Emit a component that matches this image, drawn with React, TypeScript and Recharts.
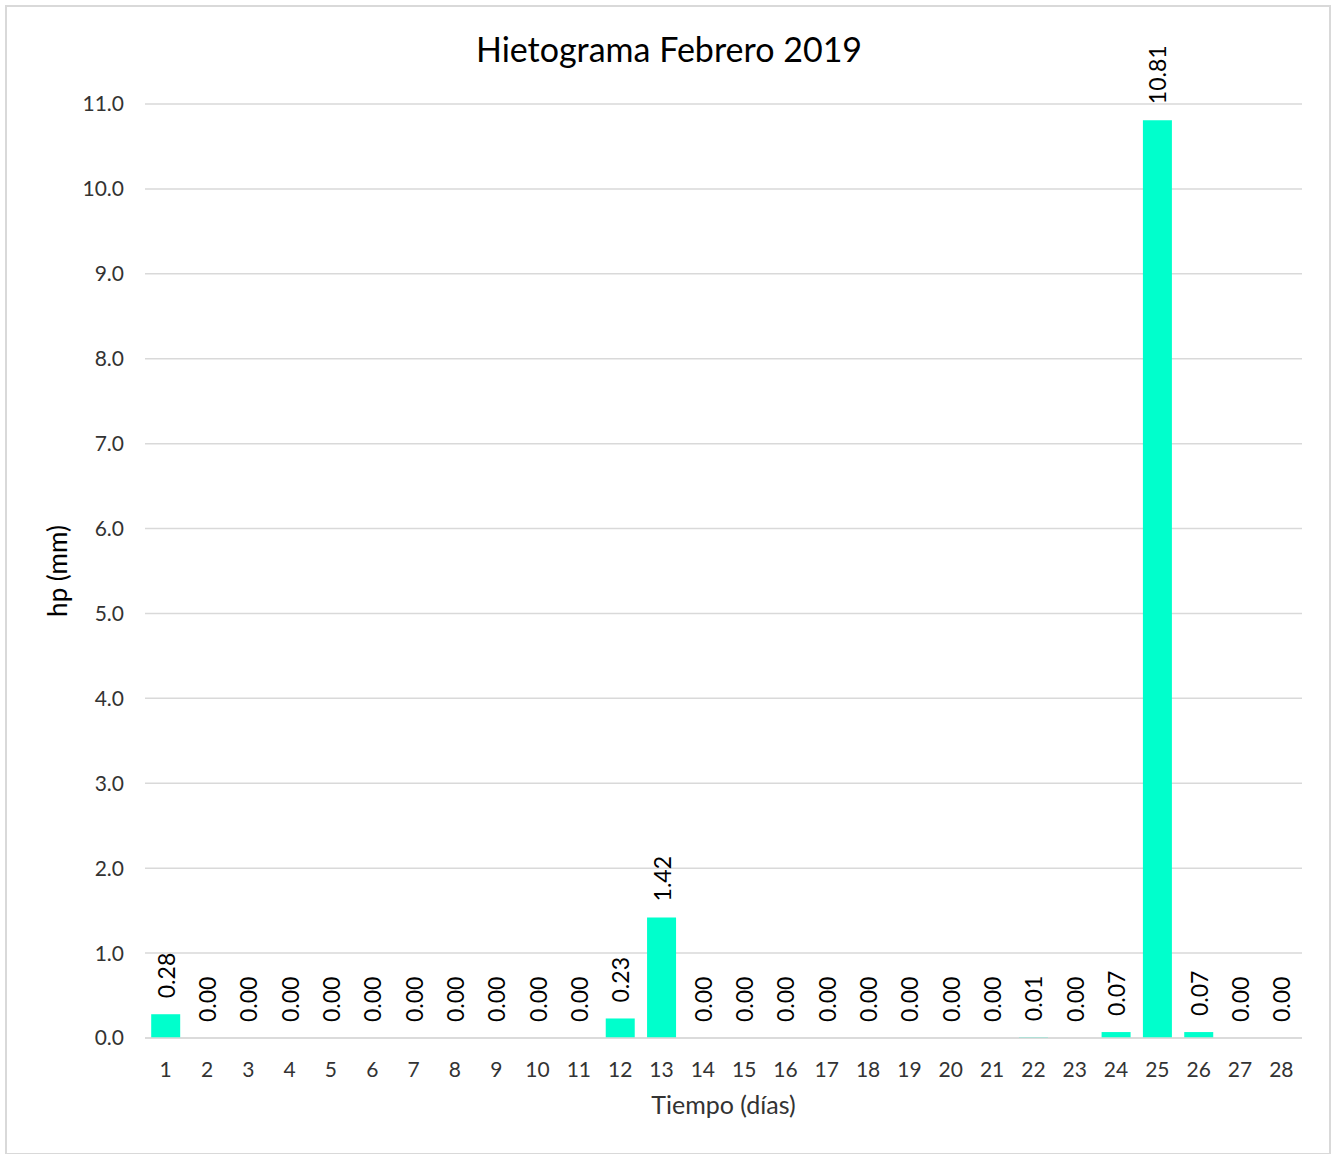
import { ComposedChart, Bar, Line, XAxis, YAxis, CartesianGrid, LabelList, Label } from "recharts";

const days = [
  1, 2, 3, 4, 5, 6, 7, 8, 9, 10, 11, 12, 13, 14, 15, 16, 17, 18, 19, 20, 21, 22, 23, 24, 25, 26, 27, 28,
];
const hp = [
  0.28, 0, 0, 0, 0, 0, 0, 0, 0, 0, 0, 0.23, 1.42, 0, 0, 0, 0, 0, 0, 0, 0, 0.01, 0, 0.07, 10.81, 0.07, 0, 0,
];
const yTicks = [0, 1, 2, 3, 4, 5, 6, 7, 8, 9, 10, 11];

const data = days.map((d, i) => ({ day: String(d), hp: hp[i] }));

const font = "Lato, 'Open Sans', sans-serif";

// labels hang off an invisible line so that zero-height bars still get one
const RotatedLabel = (props: any) => {
  const { x, y, value } = props;
  const cx = x;
  const cy = y - 16;
  return (
    <text
      x={cx}
      y={cy}
      transform={`rotate(-90, ${cx}, ${cy})`}
      textAnchor="start"
      dominantBaseline="central"
      fontSize={23}
      fontFamily={font}
      fill="#000"
    >
      {Number(value).toFixed(2)}
    </text>
  );
};

export default function App() {
  return (
    <div
      style={{
        position: "absolute",
        left: 0,
        top: 0,
        width: 1332,
        height: 1154,
        background: "#fff",
        fontFamily: font,
      }}
    >
      <div
        style={{
          position: "absolute",
          left: 5,
          top: 5,
          width: 1326,
          height: 1150,
          border: "2px solid #d9d9d9",
          boxSizing: "border-box",
        }}
      />
      <div
        style={{
          position: "absolute",
          left: 0,
          width: 1338,
          top: 28,
          textAlign: "center",
          fontSize: 34,
          color: "#000",
        }}
      >
        Hietograma Febrero 2019
      </div>
      <div style={{ position: "absolute", left: 0, top: 0 }}>
        <ComposedChart
          width={1332}
          height={1154}
          data={data}
          margin={{ top: 104, right: 30, left: 0, bottom: 0 }}
          barCategoryGap="15%"
        >
          <CartesianGrid vertical={false} stroke="#d9d9d9" strokeWidth={1.5} />
          <XAxis
            dataKey="day"
            height={116}
            tickSize={0}
            tickMargin={24}
            axisLine={{ stroke: "#d9d9d9", strokeWidth: 1.5 }}
            tick={{ fill: "#333", fontSize: 21, fontFamily: font }}
            interval={0}
          >
            <Label
              value="Tiempo (días)"
              position="insideTop"
              offset={58}
              fill="#333"
              fontSize={25}
              fontFamily={font}
            />
          </XAxis>
          <YAxis
            width={145}
            domain={[0, 11]}
            ticks={yTicks}
            tickFormatter={(v: number) => v.toFixed(1)}
            tickSize={0}
            tickMargin={21}
            axisLine={false}
            tick={{ fill: "#333", fontSize: 21, fontFamily: font }}
          >
            <Label
              value="hp (mm)"
              angle={-90}
              position="insideLeft"
              offset={58}
              style={{ textAnchor: "middle" }}
              fill="#000"
              fontSize={26}
              fontFamily={font}
            />
          </YAxis>
          <Bar dataKey="hp" fill="#00FFCC" isAnimationActive={false} />
          <Line
            dataKey="hp"
            stroke="none"
            dot={false}
            activeDot={false}
            isAnimationActive={false}
          >
            <LabelList dataKey="hp" content={RotatedLabel} />
          </Line>
        </ComposedChart>
      </div>
    </div>
  );
}
